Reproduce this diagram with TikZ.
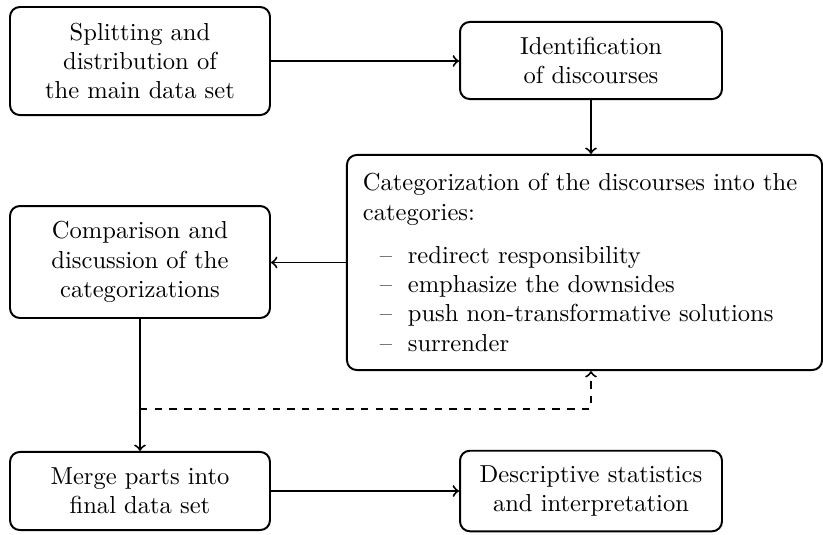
\documentclass[tikz,border=0pt]{standalone}
\usetikzlibrary{calc}
\begin{document}
\begin{tikzpicture}[x=0.4073pt,y=-0.4073pt,
  box/.style={draw, thick, rounded corners=4pt, align=center, inner sep=0pt},
  conn/.style={thick,->}]
\useasboundingbox (0,0) rectangle (823,534);
\node[box, minimum width=105.9pt, minimum height=44pt] (split) at (140,61)
  {Splitting and\\ distribution of\\ the main data set};
\node[box, minimum width=106.7pt, minimum height=31.4pt] (ident) at (591,60.5)
  {Identification\\ of discourses};
\node[box, text width=180.5pt, inner sep=6.5pt, align=left, minimum height=87.6pt] (cat) at (584.5,262.5)
  {Categorization of the discourses into the\\
   categories:\\[5.5pt]
   \hspace*{6.9pt}\makebox[11.4pt][l]{\textendash}redirect responsibility\\
   \hspace*{6.9pt}\makebox[11.4pt][l]{\textendash}emphasize the downsides\\
   \hspace*{6.9pt}\makebox[11.4pt][l]{\textendash}push non-transformative solutions\\
   \hspace*{6.9pt}\makebox[11.4pt][l]{\textendash}surrender};
\node[box, minimum width=105.9pt, minimum height=45.6pt] (comp) at (140,262)
  {Comparison and\\ discussion of the\\ categorizations};
\node[box, minimum width=105.9pt, minimum height=31.8pt] (merge) at (140,491)
  {Merge parts into\\ final data set};
\node[box, minimum width=106.7pt, minimum height=32.8pt] (desc) at (591,491)
  {Descriptive statistics\\ and interpretation};
\coordinate (j) at (140,409);
\draw[conn] (split.east) -- (split.east -| ident.west);
\draw[conn] (ident.south) -- (ident.south |- cat.north);
\draw[conn] (cat.west) -- (cat.west -| comp.east);
\draw[conn] (comp.south) -- (merge.north);
\draw[conn, dashed] (j) -| (ident.south |- cat.south);
\draw[conn] (merge.east) -- (merge.east -| desc.west);
\end{tikzpicture}
\end{document}
